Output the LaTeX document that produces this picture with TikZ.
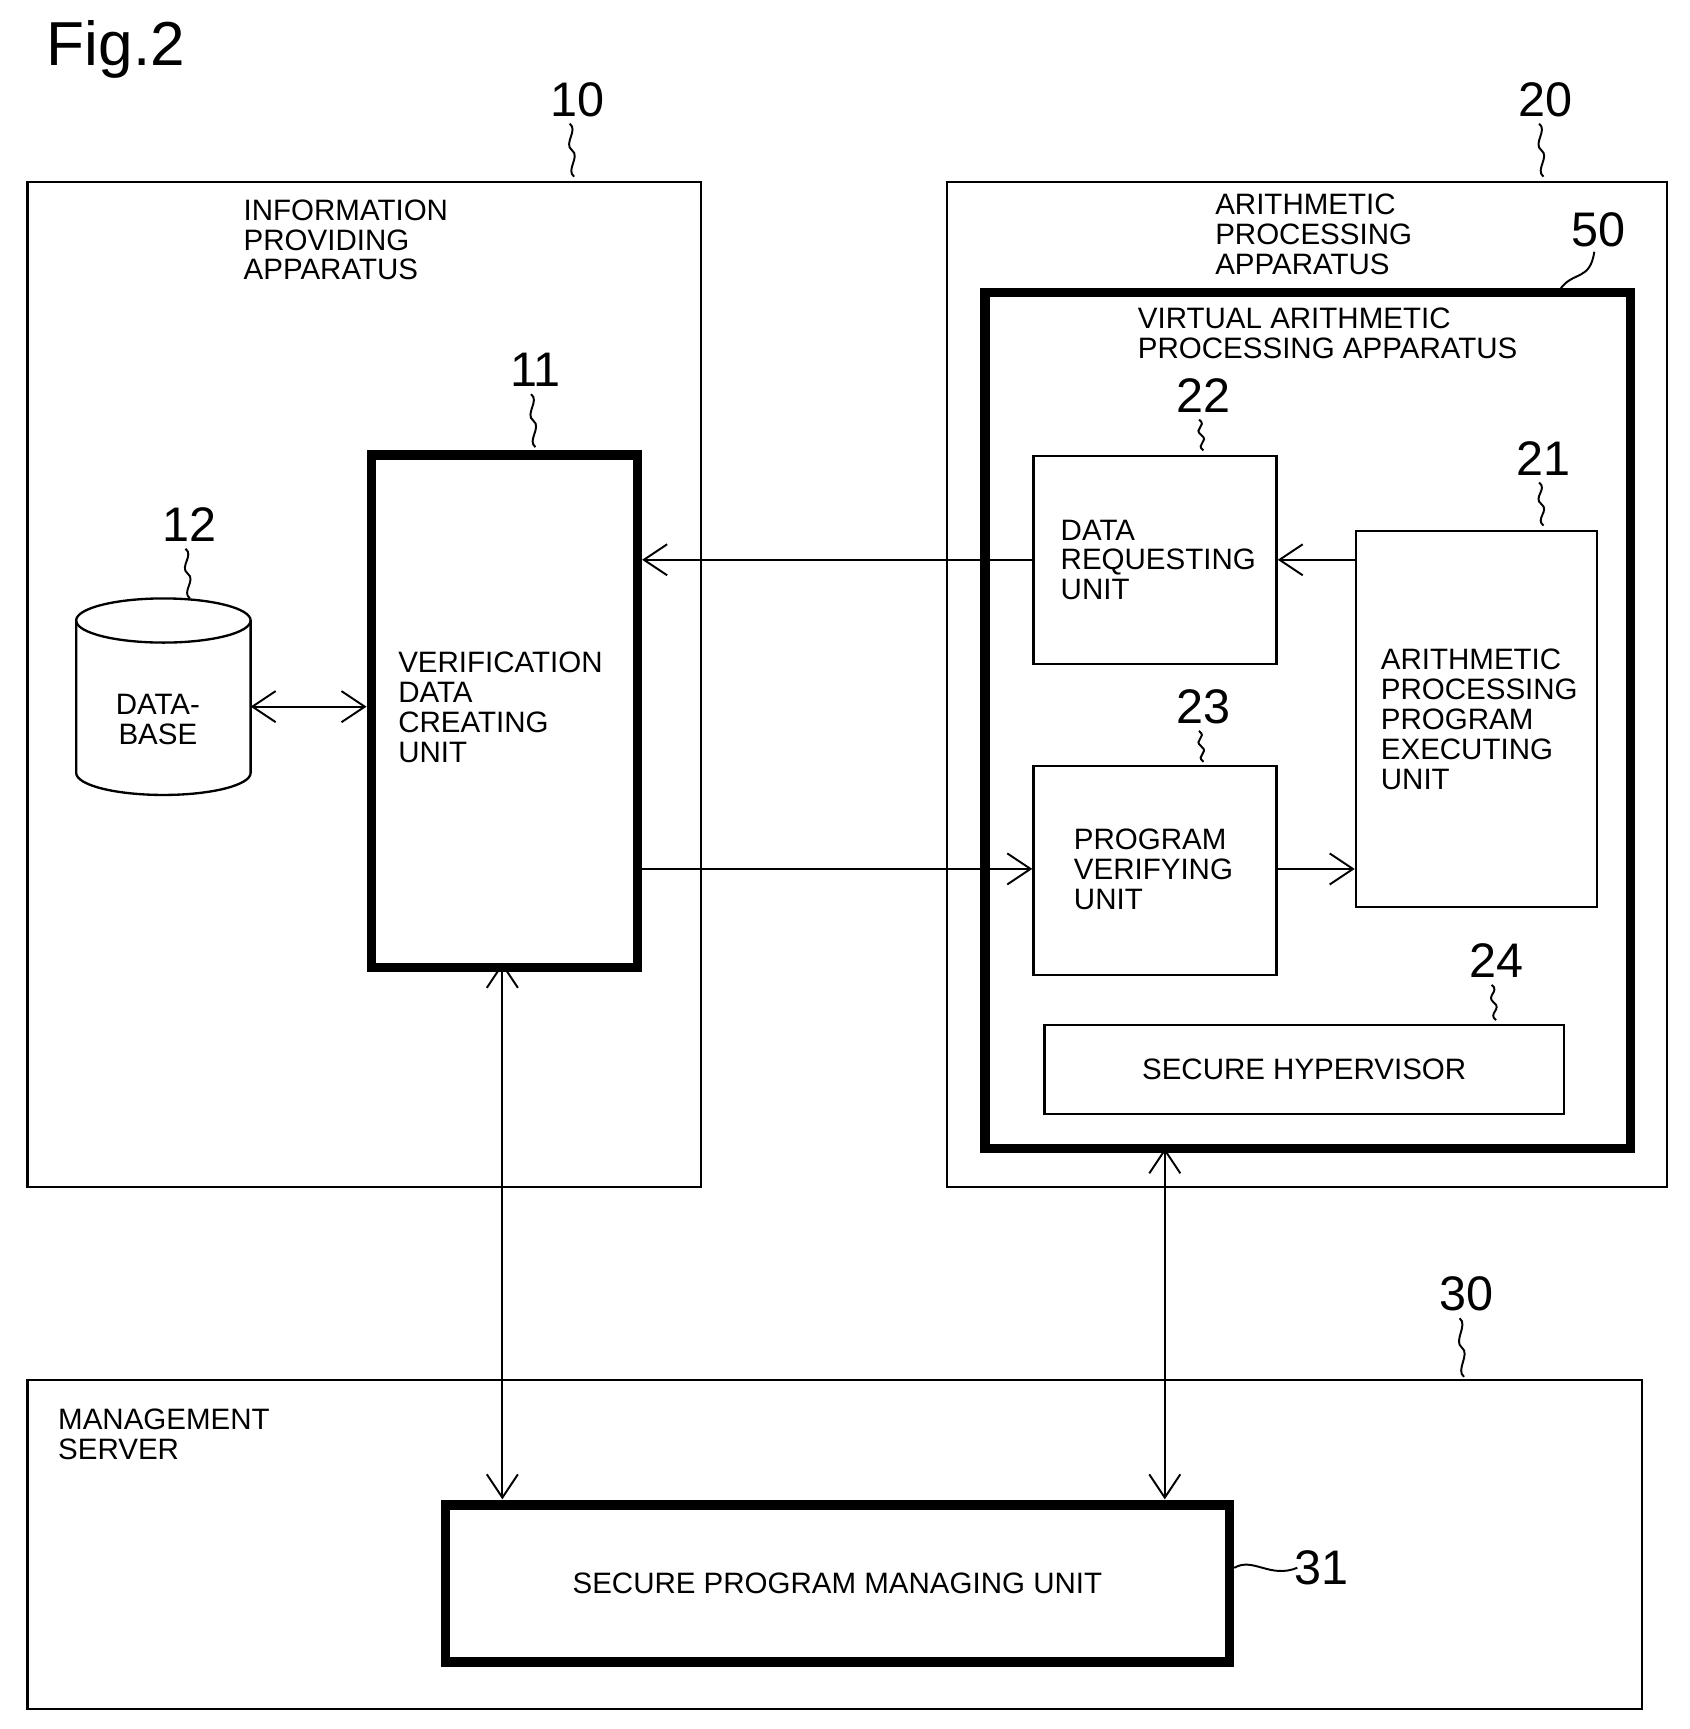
\documentclass[tikz,border=0pt]{standalone}
\usepackage{fontspec}
\setmainfont{Liberation Sans}
\usetikzlibrary{arrows.meta,calc}
\tikzset{
  unit/.style={draw, line width=0.6pt},
  thickunit/.style={draw, line width=2.4pt},
  txt/.style={font=\fontsize{7.6}{7.7}\selectfont, align=left, inner sep=0pt},
  num/.style={font=\fontsize{12.5}{12.5}\selectfont, inner sep=0pt},
  flow/.style={-{Straight Barb[length=6pt,width=8pt]}, line width=0.5pt},
  both/.style={{Straight Barb[length=6pt,width=8pt]}-{Straight Barb[length=6pt,width=8pt]}, line width=0.5pt},
  lead/.style={line width=0.5pt}
}
\newcommand{\squig}[2]{\draw[lead] #1 .. controls +(-8,-6) and +(8,6) .. ($#1!0.5!#2$) .. controls +(-8,-6) and +(8,6) .. #2;}
\begin{document}
\begin{tikzpicture}[x=0.01cm, y=-0.01cm]
    \useasboundingbox (0,0) rectangle (1530,1566);

    \node[font=\fontsize{16}{16}\selectfont, anchor=west] (fig) at (30,45) {Fig.2};

    % Information providing apparatus
    \draw[unit] (25,165) rectangle (635,1075);
    \node[txt, anchor=north west] (t10) at (220,180) {INFORMATION\\PROVIDING\\APPARATUS};
    \node[thickunit, minimum width=2.41cm, minimum height=4.64cm, anchor=north west, inner sep=0pt] (u11) at (332,408) {};
    \node[txt, anchor=north west] (t11) at (360,590) {VERIFICATION\\DATA\\CREATING\\UNIT};
    % database
    \draw[unit] (69,562) -- (69,700) arc[start angle=180, end angle=360, x radius=79, y radius=-20] -- (227,562);
    \draw[unit] (148,562) ellipse[x radius=79, y radius=20];
    \coordinate (db) at (227,640);
    \node[txt, align=center] (t12) at (143,652) {DATA-\\BASE};

    % Arithmetic processing apparatus
    \draw[unit] (858,165) rectangle (1510,1075);
    \node[txt, anchor=north west] (t20) at (1100,175) {ARITHMETIC\\PROCESSING\\APPARATUS};
    \draw[thickunit] (892,265) rectangle (1477,1040);
    \node[txt, anchor=north west] (t50) at (1030,278) {VIRTUAL ARITHMETIC\\PROCESSING APPARATUS};
    \node[unit, minimum width=2.2cm, minimum height=1.88cm, anchor=north west, inner sep=0pt] (u22) at (935,412) {};
    \node[txt, anchor=north west] (t22) at (960,470) {DATA\\REQUESTING\\UNIT};
    \node[unit, minimum width=2.18cm, minimum height=3.4cm, anchor=north west, inner sep=0pt] (u21) at (1227,480) {};
    \node[txt, anchor=north west] (t21) at (1250,587) {ARITHMETIC\\PROCESSING\\PROGRAM\\EXECUTING\\UNIT};
    \node[unit, minimum width=2.2cm, minimum height=1.89cm, anchor=north west, inner sep=0pt] (u23) at (935,693) {};
    \node[txt, anchor=north west] (t23) at (972,750) {PROGRAM\\VERIFYING\\UNIT};
    \node[unit, txt, align=center, minimum width=4.7cm, minimum height=0.81cm, anchor=north west] (u24) at (945,927) {SECURE HYPERVISOR};

    % Management server
    \draw[unit] (25,1250) rectangle (1487,1548);
    \node[txt, anchor=north west] (t30) at (52,1275) {MANAGEMENT\\SERVER};
    \node[thickunit, txt, align=center, minimum width=7.1cm, minimum height=1.42cm, anchor=north west] (u31) at (399,1359) {SECURE PROGRAM MANAGING UNIT};

    % connectors
    \draw[flow] (u22.west |- 0,507) -- (u11.east |- 0,507);
    \draw[flow] (u21.west |- 0,507) -- (u22.east |- 0,507);
    \draw[flow] (u11.east |- 0,787) -- (u23.west |- 0,787);
    \draw[flow] (u23.east |- 0,787) -- (u21.west |- 0,787);
    \draw[both] (db) -- (u11.west |- db);
    \draw[both] (455,872) -- (455,1358);
    \draw[both] (1055,1040) -- (1055,1358);

    % reference numerals
    \node[num] (n10) at (523,90) {10};
    \squig{(520,160)}{(516,112)}
    \node[num] (n11) at (485,335) {11};
    \squig{(485,405)}{(481,357)}
    \node[num] (n12) at (172,475) {12};
    \squig{(172,542)}{(168,497)}
    \node[num] (n20) at (1400,90) {20};
    \squig{(1398,160)}{(1394,112)}
    \node[num] (n50) at (1448,208) {50};
    \draw[lead] (1413,262) .. controls (1425,245) and (1440,255) .. (1444,228);
    \node[num] (n22) at (1090,358) {22};
    \squig{(1090,408)}{(1086,380)}
    \node[num] (n21) at (1398,415) {21};
    \squig{(1398,476)}{(1394,437)}
    \node[num] (n23) at (1090,640) {23};
    \squig{(1090,690)}{(1086,662)}
    \node[num] (n24) at (1355,870) {24};
    \squig{(1355,924)}{(1351,892)}
    \node[num] (n30) at (1328,1172) {30};
    \squig{(1326,1247)}{(1322,1194)}
    \node[num] (n31) at (1197,1420) {31};
    \draw[lead] (u31.east |- 0,1420) .. controls (1135,1410) and (1150,1430) .. (1175,1420);
\end{tikzpicture}
\end{document}
